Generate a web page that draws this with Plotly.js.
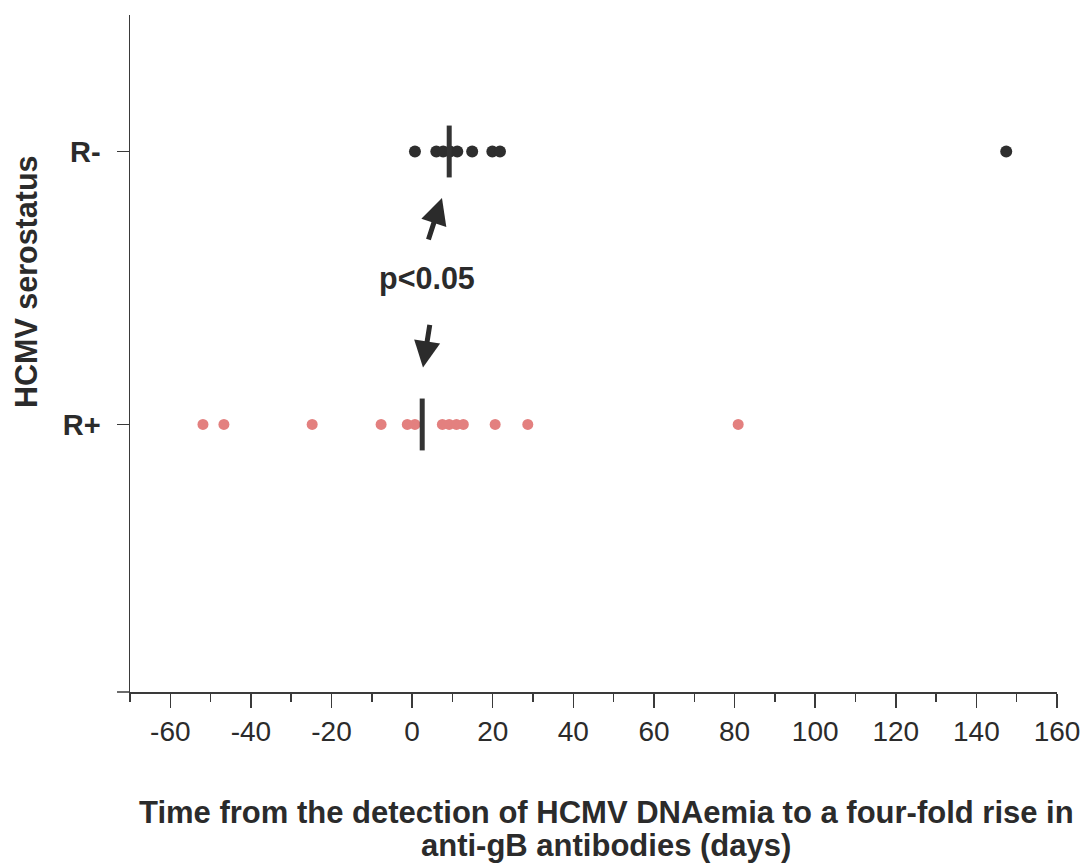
<!DOCTYPE html>
<html>
<head>
<meta charset="utf-8">
<script src="https://cdn.plot.ly/plotly-3.0.1.min.js"></script>
<style>
  html, body { margin: 0; padding: 0; background: #ffffff; }
  #chart { width: 1088px; height: 868px; }
</style>
</head>
<body>
<div id="chart"></div>
<script>
// ---- data ----
const groups = ['R+', 'R-'];          // y categories (bottom to top)
const groupPos = [1, 2];              // numeric position for each category
const rNegDays = [0.7, 6.0, 7.7, 9.4, 11.2, 14.9, 19.9, 21.8, 147.4];
const rPosDays = [-51.9, -46.7, -24.8, -7.7, -1.2, 0.7, 7.5, 9.2, 11.0, 12.7, 20.6, 28.7, 80.9];
const medians = [2.5, 9.2];           // median line for R+, R-
const xTickVals = [-60, -40, -20, 0, 20, 40, 60, 80, 100, 120, 140, 160];
const xTickText = ['-60', '-40', '-20', '0', '20', '40', '60', '80', '100', '120', '140', '160'];
const pLabel = 'p<0.05';

// ---- styles ----
const FONT = 'Liberation Sans, Arial, Helvetica, sans-serif';
const INK = '#2b2b2b';
const AXIS = '#3a3a3a';
const colNeg = '#2e2e2e';
const colPos = '#e3807f';
const medHalf = 0.095;

const traces = [
  {
    type: 'scatter', mode: 'markers', name: 'R-',
    x: rNegDays, y: rNegDays.map(() => groupPos[1]),
    marker: { color: colNeg, size: 12 },
    hoverinfo: 'x'
  },
  {
    type: 'scatter', mode: 'markers', name: 'R+',
    x: rPosDays, y: rPosDays.map(() => groupPos[0]),
    marker: { color: colPos, size: 11 },
    hoverinfo: 'x'
  }
];
medians.forEach((m, i) => {
  traces.push({
    type: 'scatter', mode: 'lines', name: 'median ' + groups[i],
    x: [m, m], y: [groupPos[i] - medHalf, groupPos[i] + medHalf],
    line: { color: '#333333', width: 5 },
    hoverinfo: 'skip'
  });
});

const layout = {
  width: 1088, height: 868,
  margin: { l: 130, r: 31, t: 15, b: 176 },
  paper_bgcolor: '#ffffff', plot_bgcolor: '#ffffff',
  showlegend: false,
  font: { family: FONT, color: INK },
  xaxis: {
    range: [-70, 160],
    tickvals: xTickVals, ticktext: xTickText,
    showline: true, linecolor: AXIS, linewidth: 1.5,
    ticks: 'outside', ticklen: 14, tickwidth: 1.5, tickcolor: AXIS,
    minor: { ticks: 'outside', dtick: 10, tick0: 0, ticklen: 8, tickwidth: 1.5, tickcolor: AXIS },
    showgrid: false, zeroline: false,
    tickfont: { family: FONT, size: 28, color: INK }
  },
  yaxis: {
    range: [0.02, 2.5],
    tickvals: groupPos, ticktext: groups,
    showline: true, linecolor: AXIS, linewidth: 1.5,
    ticks: 'outside', ticklen: 12, tickwidth: 1.5, tickcolor: AXIS,
    ticklabelstandoff: 10,
    showgrid: false, zeroline: false,
    tickfont: { family: FONT, size: 29, color: INK, weight: 'bold' }
  },
  shapes: [
    { type: 'line', xref: 'paper', yref: 'paper', x0: -0.014, x1: 0, y0: 0, y1: 0,
      line: { color: AXIS, width: 1.5 } },
    { type: 'line', xref: 'paper', yref: 'paper', x0: 0, x1: 0, y0: 0, y1: -0.012,
      line: { color: AXIS, width: 1.5 } }
  ],
  annotations: [
    { xref: 'paper', yref: 'paper', x: 0.5135, y: -0.1773, xanchor: 'center', yanchor: 'middle',
      text: 'Time from the detection of HCMV DNAemia to a four-fold rise in', showarrow: false,
      font: { family: FONT, size: 31, color: INK, weight: 'bold' } },
    { xref: 'paper', yref: 'paper', x: 0.5135, y: -0.226, xanchor: 'center', yanchor: 'middle',
      text: 'anti-gB antibodies (days)', showarrow: false,
      font: { family: FONT, size: 31, color: INK, weight: 'bold' } },
    { xref: 'paper', yref: 'paper', x: -0.1122, y: 0.607, xanchor: 'center', yanchor: 'middle',
      text: 'HCMV serostatus', textangle: -90, showarrow: false,
      font: { family: FONT, size: 30.5, color: INK, weight: 'bold' } },
    { xref: 'x', yref: 'y', x: 3.7, y: 1.535, text: pLabel, showarrow: false,
      xanchor: 'center', yanchor: 'middle',
      font: { family: FONT, size: 30.5, color: INK, weight: 'bold' } },
    { xref: 'x', yref: 'y', x: 7.4, y: 1.83, text: '', showarrow: true,
      ax: -14, ay: 43, arrowhead: 2, arrowsize: 1.05, arrowwidth: 5, arrowcolor: '#2b2b2b' },
    { xref: 'x', yref: 'y', x: 2.7, y: 1.209, text: '', showarrow: true,
      ax: 7, ay: -44, arrowhead: 2, arrowsize: 1.05, arrowwidth: 5, arrowcolor: '#2b2b2b' }
  ]
};

Plotly.newPlot('chart', traces, layout, { displayModeBar: false, staticPlot: true });
</script>
</body>
</html>
